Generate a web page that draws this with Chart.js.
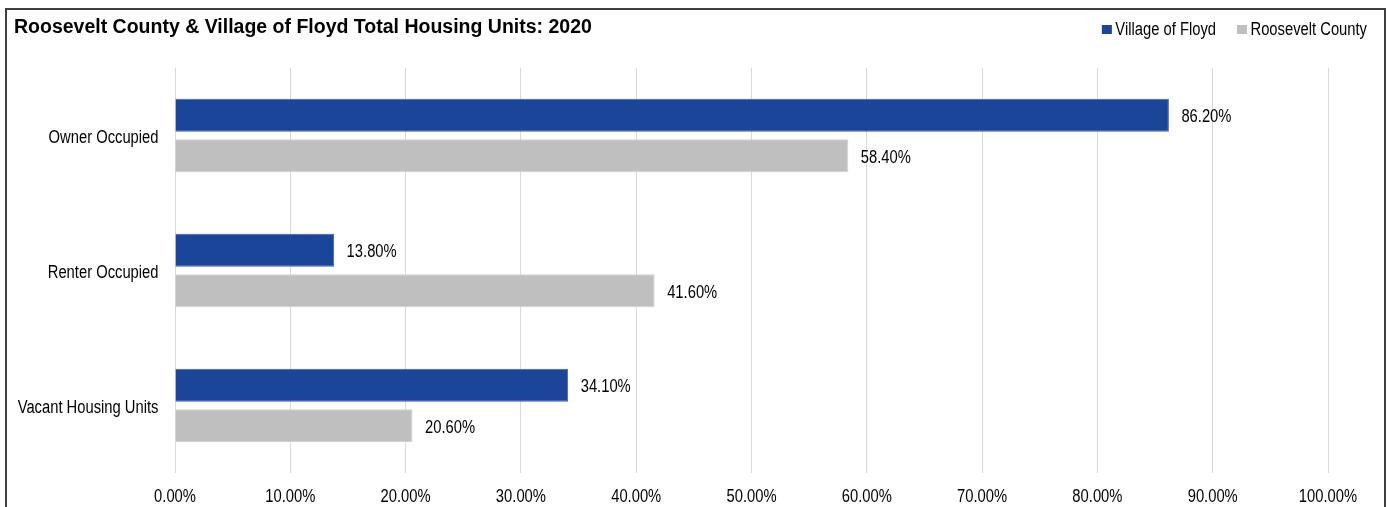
<!DOCTYPE html>
<html>
<head>
<meta charset="utf-8">
<title>Roosevelt County &amp; Village of Floyd Total Housing Units: 2020</title>
<script src="https://cdn.jsdelivr.net/npm/chart.js@4/dist/chart.umd.min.js"></script>
<style>
  html, body { margin: 0; padding: 0; background: #ffffff; overflow: hidden; }
  #wrap { position: relative; width: 1388px; height: 507px; }
  #frame {
    position: absolute; left: 5px; top: 8px; width: 1381px; height: 520px;
    border: 2px solid #404040; pointer-events: none; box-sizing: border-box;
  }
  canvas { position: absolute; left: 0; top: 0; }
</style>
</head>
<body>
<div id="wrap">
  <canvas id="chart" width="1388" height="507"></canvas>
  <div id="frame"></div>
</div>
<script>
const chartTitle = 'Roosevelt County & Village of Floyd Total Housing Units: 2020';
const categories = ['Owner Occupied', 'Renter Occupied', 'Vacant Housing Units'];
const seriesNames = ['Village of Floyd', 'Roosevelt County'];
const villageOfFloyd = [86.2, 13.8, 34.1];
const rooseveltCounty = [58.4, 41.6, 20.6];
const tickValues = [0, 10, 20, 30, 40, 50, 60, 70, 80, 90, 100];

const FONT = 'Arial, "Liberation Sans", Helvetica, sans-serif';
const BODY_FONT = '18px ' + FONT;
const NARROW = 0.82;   // horizontal squeeze for a narrow sans face

const pct = v => Number(v).toFixed(2) + '%';

// Draws a line of narrow text anchored at (x, y) on the alphabetic baseline
function narrowText(ctx, text, x, y, align) {
  ctx.save();
  ctx.translate(x, y);
  ctx.scale(NARROW, 1);
  ctx.textAlign = align;
  ctx.fillText(text, 0, 0);
  ctx.restore();
}

// Title, legend, axis labels and value labels
const textPlugin = {
  id: 'chartText',
  afterDraw(chart) {
    const ctx = chart.ctx;
    ctx.save();
    ctx.textBaseline = 'alphabetic';
    ctx.fillStyle = '#000000';

    // title
    ctx.font = 'bold 19.5px ' + FONT;
    ctx.textAlign = 'left';
    ctx.fillText(chartTitle, 14, 33);

    // legend, right aligned in the header row
    ctx.font = BODY_FONT;
    const sets = chart.data.datasets;
    let right = 1367;
    for (let i = sets.length - 1; i >= 0; i--) {
      const w = ctx.measureText(sets[i].label).width * NARROW;
      const textX = right - w;
      const boxX = textX - 13.5;
      ctx.fillStyle = sets[i].backgroundColor;
      ctx.fillRect(boxX, 25, 10, 9);
      ctx.fillStyle = '#000000';
      narrowText(ctx, sets[i].label, textX, 35, 'left');
      right = boxX - 21;
    }

    // x axis tick labels
    const xs = chart.scales.x;
    tickValues.forEach(v => {
      narrowText(ctx, pct(v), xs.getPixelForValue(v), 502, 'center');
    });

    // category labels
    const ys = chart.scales.y;
    categories.forEach((c, i) => {
      narrowText(ctx, c, ys.left + ys.width - 16.5, ys.getPixelForValue(i) + 7, 'right');
    });

    // value labels past each bar end
    sets.forEach((ds, di) => {
      chart.getDatasetMeta(di).data.forEach((bar, i) => {
        narrowText(ctx, pct(ds.data[i]), bar.x + 12.5, bar.y + 7, 'left');
      });
    });
    ctx.restore();
  }
};

new Chart(document.getElementById('chart'), {
  type: 'bar',
  data: {
    labels: categories,
    datasets: [
      { label: seriesNames[0], data: villageOfFloyd, backgroundColor: '#1B4599', borderColor: '#3A62B0', borderWidth: 1 },
      { label: seriesNames[1], data: rooseveltCounty, backgroundColor: '#BFBFBF', borderColor: '#D0D0D0', borderWidth: 1 }
    ]
  },
  options: {
    indexAxis: 'y',
    responsive: false,
    animation: false,
    devicePixelRatio: 1,
    categoryPercentage: 0.6,
    barPercentage: 0.82,
    layout: { padding: { top: 68, right: 60, left: 0, bottom: 0 } },
    plugins: {
      legend: { display: false },
      title: { display: false },
      tooltip: { enabled: false }
    },
    scales: {
      x: {
        type: 'linear',
        min: 0,
        max: 100,
        afterBuildTicks(scale) { scale.ticks = tickValues.map(v => ({ value: v })); },
        afterFit(scale) { scale.height = 34; },
        grid: { color: '#D9D9D9', lineWidth: 1, drawTicks: false },
        border: { display: false },
        ticks: { display: false }
      },
      y: {
        afterFit(scale) { scale.width = 175; },
        grid: { display: false, drawTicks: false },
        border: { display: false },
        ticks: { display: false }
      }
    }
  },
  plugins: [textPlugin]
});
</script>
</body>
</html>
